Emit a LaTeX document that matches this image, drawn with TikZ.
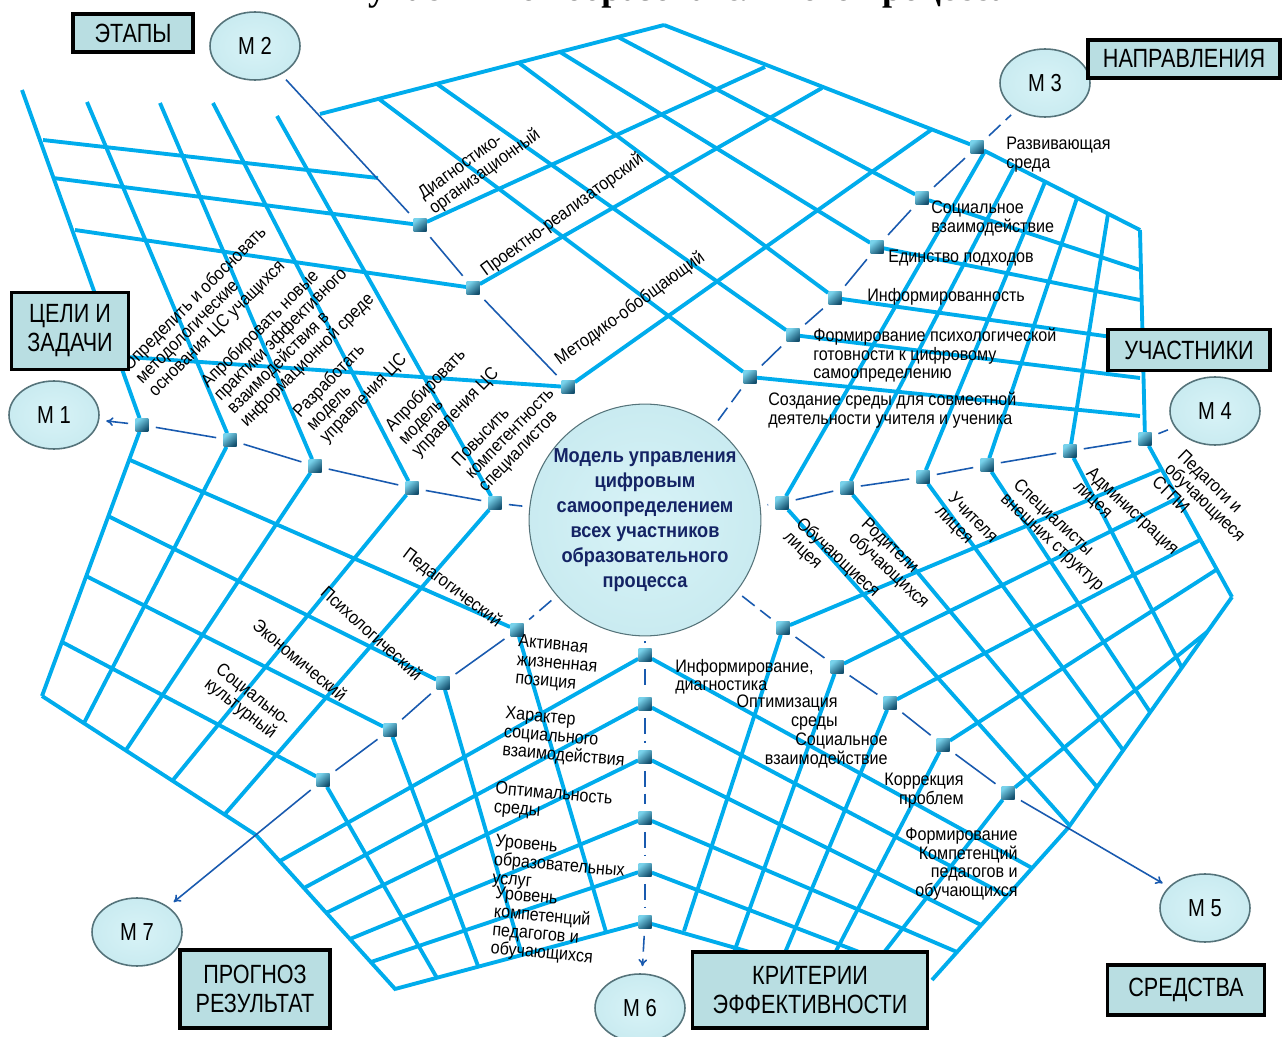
\documentclass[tikz,border=0pt]{standalone}
\usepackage{fontspec}
\setmainfont{Liberation Sans}
\newfontfamily\lblfamily[FakeStretch=0.89]{Liberation Sans}
\newfontfamily\boxfamily[FakeStretch=0.82]{Liberation Sans}
\newfontfamily\ctrfamily[FakeStretch=0.9]{Liberation Sans}
\newfontfamily\ttlfamily{Liberation Serif}
\newcommand{\lblfont}{\lblfamily\fontsize{10.3}{10.5}\selectfont}
\newcommand{\boxfont}{\boxfamily\fontsize{15}{16.5}\selectfont}
\newcommand{\ctrfont}{\ctrfamily\bfseries\fontsize{11.5}{14.2}\selectfont}
\newcommand{\mfont}{\boxfamily\fontsize{14}{15}\selectfont}
\usetikzlibrary{arrows.meta,positioning,calc,shapes.geometric}
\definecolor{gridblue}{RGB}{0,172,236}
\definecolor{spokeblue}{RGB}{25,90,175}
\definecolor{boxfill}{RGB}{185,222,226}
\definecolor{navytext}{RGB}{20,35,100}
\definecolor{ballin}{RGB}{216,243,247}
\definecolor{ballmid}{RGB}{196,232,238}
\definecolor{ballsoft}{RGB}{150,190,196}
\definecolor{ballrim}{RGB}{85,115,122}
\definecolor{cubelight}{RGB}{120,210,235}
\definecolor{cubedark}{RGB}{20,80,110}
\pgfdeclareradialshading{ballshade}{\pgfpoint{0bp}{0bp}}{color(0bp)=(ballin); color(34bp)=(ballmid); color(44bp)=(ballsoft); color(50bp)=(ballrim)}
\pgfdeclarelayer{background}
\pgfsetlayers{background,main}

\begin{document}
\begin{tikzpicture}[x=0.02cm, y=-0.02cm,
    gridline/.style={draw=gridblue, line width=2.2pt},
    spoke/.style={draw=spokeblue, line width=0.9pt, shorten <=4pt, shorten >=4pt},
    spokedash/.style={spoke, dash pattern=on 9pt off 4pt},
    tip/.style={-{To[length=4pt,width=5pt]}},
    marker/.style={rectangle, minimum size=0.26cm, inner sep=0pt,
                   top color=cubelight, bottom color=cubedark, shading angle=40},
    mnode/.style={ellipse, draw=ballrim, line width=0.9pt, shade, shading=ballshade,
                  minimum width=1.8cm, minimum height=1.36cm, font=\mfont},
    ctr/.style={circle, minimum size=4.44cm, shade, shading=ballshade, draw=ballrim,
                line width=0.6pt, font=\ctrfont, text=navytext, align=center, inner sep=0pt},
    tag/.style={rectangle, draw=black, line width=1.8pt, fill=boxfill, font=\boxfont,
                align=center, inner sep=0pt},
    lbl/.style={font=\lblfont, inner sep=0pt, align=left}
]
\useasboundingbox (0,0) rectangle (1286,1037);

% title, cut by the page edge
\node[font=\ttlfamily\bfseries\fontsize{20.5}{22}\selectfont, anchor=base, inner sep=0pt]
  (ttl) at (688,1) {участников образовательного процесса};

% centre
\node[ctr] (ctr) at (645,520) {Модель управления\\цифровым\\самоопределением\\всех участников\\образовательного\\процесса};

% modules
\node[mnode] (M1) at (54,415) {М 1};
\node[mnode] (M2) at (255,46) {М 2};
\node[mnode] (M3) at (1045,83) {М 3};
\node[mnode] (M4) at (1215,411) {М 4};
\node[mnode] (M5) at (1205,908) {М 5};
\node[mnode] (M6) at (640,1008) {М 6};
\node[mnode] (M7) at (137,932) {М 7};

% markers
\node[marker] (m1a) at (142,425) {};
\node[marker] (m1b) at (230,440) {};
\node[marker] (m1c) at (315,466) {};
\node[marker] (m1d) at (412,488) {};
\node[marker] (m1e) at (495,503) {};
\node[marker] (m2a) at (420,225) {};
\node[marker] (m2b) at (473,288) {};
\node[marker] (m2c) at (568,387) {};
\node[marker] (m3a) at (977,147) {};
\node[marker] (m3b) at (922,198) {};
\node[marker] (m3c) at (877,247) {};
\node[marker] (m3d) at (835,298) {};
\node[marker] (m3e) at (793,335) {};
\node[marker] (m3f) at (750,377) {};
\node[marker] (m4a) at (782,503) {};
\node[marker] (m4b) at (847,488) {};
\node[marker] (m4c) at (923,477) {};
\node[marker] (m4d) at (987,465) {};
\node[marker] (m4e) at (1070,451) {};
\node[marker] (m4f) at (1145,439) {};
\node[marker] (m5a) at (783,628) {};
\node[marker] (m5b) at (837,667) {};
\node[marker] (m5c) at (890,703) {};
\node[marker] (m5d) at (943,745) {};
\node[marker] (m5e) at (1008,793) {};
\node[marker] (m6a) at (645,655) {};
\node[marker] (m6b) at (645,704) {};
\node[marker] (m6c) at (645,757) {};
\node[marker] (m6d) at (645,818) {};
\node[marker] (m6e) at (645,870) {};
\node[marker] (m6f) at (645,922) {};
\node[marker] (m7a) at (517,630) {};
\node[marker] (m7b) at (443,683) {};
\node[marker] (m7c) at (390,730) {};
\node[marker] (m7d) at (323,780) {};
\coordinate (q2a) at (320,114);
\coordinate (q2b) at (378,178);
\coordinate (q5) at (1068,828);
\coordinate (q7) at (256,835);

\begin{pgfonlayer}{background}
% goals
\draw[gridline] (22,90) -- (m1a) -- (42,696);
\draw[gridline] (87,102) -- (m1b) -- (84,723);
\draw[gridline] (160,103) -- (m1c) -- (126,750);
\draw[gridline] (213,103) -- (m1d) -- (173,780);
\draw[gridline] (277,116) -- (m1e) -- (225,814);
% stages
\draw[gridline] (43,140) -- (q2b);
\draw[gridline] (q2a) -- (664,25);
\draw[gridline] (53,178) -- (m2a) -- (765,67);
\draw[gridline] (75,230) -- (m2b) -- (822,88);
\draw[gridline] (127,357) -- (m2c) -- (931,130);
% directions
\draw[gridline] (664,25) -- (m3a) -- (1140,230);
\draw[gridline] (618,37) -- (m3b) -- (1140,270);
\draw[gridline] (560,52) -- (m3c) -- (1140,300);
\draw[gridline] (519,63) -- (m3d) -- (1140,341);
\draw[gridline] (437,84) -- (m3e) -- (1140,378);
\draw[gridline] (379,99) -- (m3f) -- (1140,416);
% participants
\draw[gridline] (985,151) -- (m4a) -- (1070,826);
\draw[gridline] (1015,166) -- (m4b) -- (1097,787);
\draw[gridline] (1045,182) -- (m4c) -- (1123,750);
\draw[gridline] (1077,198) -- (m4d) -- (1150,712);
\draw[gridline] (1108,214) -- (m4e) -- (1182,668);
\draw[gridline] (1140,230) -- (m4f) -- (1232,597);
% means
\draw[gridline] (1160,470) -- (m5a) -- (684,931);
\draw[gridline] (1178,498) -- (m5b) -- (733,955);
\draw[gridline] (1200,540) -- (m5c) -- (784,955);
\draw[gridline] (1216,570) -- (m5d) -- (834,955);
\draw[gridline] (1207,632) -- (m5e) -- (882,955);
\draw[gridline] (1232,597) -- (q5) -- (932,980);
% criteria
\draw[gridline] (280,861) -- (m6a) -- (1032,868);
\draw[gridline] (304,888) -- (m6b) -- (1007,896);
\draw[gridline] (326,913) -- (m6c) -- (981,925);
\draw[gridline] (350,939) -- (m6d) -- (957,952);
\draw[gridline] (371,962) -- (m6e) -- (880,960);
\draw[gridline] (395,989) -- (m6f) -- (760,955);
% forecast
\draw[gridline] (130,460) -- (m7a) -- (606,932);
\draw[gridline] (108,516) -- (m7b) -- (522,955);
\draw[gridline] (86,576) -- (m7c) -- (478,966);
\draw[gridline] (62,642) -- (m7d) -- (437,978);
\draw[gridline] (42,696) -- (q7) -- (396,990);

% spokes
\draw[spokedash] (ctr) -- (m1e);
\draw[spoke] (m1e) -- (m1d);
\draw[spoke] (m1d) -- (m1c);
\draw[spoke] (m1c) -- (m1b);
\draw[spoke] (m1b) -- (m1a);
\draw[spoke, tip] (m1a) -- (M1);
\draw[spoke] (m2c) -- (m2b);
\draw[spoke] (m2b) -- (m2a);
\draw[spoke] (m2a) -- (M2);
\draw[spokedash] (ctr) -- (m3f);
\draw[spoke] (m3f) -- (m3e);
\draw[spoke] (m3e) -- (m3d);
\draw[spoke] (m3d) -- (m3c);
\draw[spoke] (m3c) -- (m3b);
\draw[spoke] (m3b) -- (m3a);
\draw[spokedash] (m3a) -- (M3);
\draw[spokedash] (ctr) -- (m4a);
\draw[spoke] (m4a) -- (m4b);
\draw[spoke] (m4b) -- (m4c);
\draw[spoke] (m4c) -- (m4d);
\draw[spoke] (m4d) -- (m4e);
\draw[spoke] (m4e) -- (m4f);
\draw[spoke] (m4f) -- (M4);
\draw[spokedash] (ctr) -- (m5a);
\draw[spoke] (m5a) -- (m5b);
\draw[spoke] (m5b) -- (m5c);
\draw[spoke] (m5c) -- (m5d);
\draw[spoke] (m5d) -- (m5e);
\draw[spoke, tip] (m5e) -- (M5);
\draw[spokedash] (ctr) -- (m6a);
\draw[spokedash] (m6a) -- (m6b);
\draw[spokedash] (m6b) -- (m6c);
\draw[spokedash] (m6c) -- (m6d);
\draw[spokedash] (m6d) -- (m6e);
\draw[spokedash] (m6e) -- (m6f);
\draw[spokedash, tip] (m6f) -- (M6);
\draw[spokedash] (ctr) -- (m7a);
\draw[spoke] (m7a) -- (m7b);
\draw[spoke] (m7b) -- (m7c);
\draw[spoke] (m7c) -- (m7d);
\draw[spoke, tip] (m7d) -- (M7);
\end{pgfonlayer}

% goal labels
\node[lbl, rotate=45, anchor=west] (g1) at (139,381) {Определить и обосновать\\методологические\\основания ЦС учащихся};
\node[lbl, rotate=45, anchor=west] (g2) at (224,405) {Апробировать новые\\практики эффективного\\взаимодействия в\\информационной среде};
\node[lbl, rotate=46, anchor=west] (g3) at (310,428) {Разработать\\модель\\управления ЦС};
\node[lbl, rotate=46, anchor=west] (g4) at (402,442) {Апробировать\\модель\\управления ЦС};
\node[lbl, rotate=46, anchor=west] (g5) at (469,477) {Повысить\\компетентность\\специалистов};
% stage labels
\node[lbl, rotate=36, anchor=west] (s1) at (426,204) {Диагностико-\\организационный};
\node[lbl, rotate=36, anchor=west] (s2) at (483,273) {Проектно-реализаторский};
\node[lbl, rotate=36, anchor=west] (s3) at (557,362) {Методико-обобщающий};
% direction labels
\node[lbl, anchor=north west] (d1) at (1006,137) {Развивающая\\среда};
\node[lbl, anchor=north west] (d2) at (931,201) {Социальное\\взаимодействие};
\node[lbl, anchor=north west] (d3) at (888,250) {Единство подходов};
\node[lbl, anchor=north west] (d4) at (867,288) {Информированность};
\node[lbl, anchor=north west] (d5) at (813,328) {Формирование психологической\\готовности к цифровому\\самоопределению};
\node[lbl, anchor=north west] (d6) at (768,392) {Создание среды для совместной\\деятельности учителя и ученика};
% participant labels
\node[lbl, rotate=-43, anchor=west] (p1) at (792,528) {Обучающиеся\\лицея};
\node[lbl, rotate=-43, anchor=west] (p2) at (857,529) {Родители\\обучающихся};
\node[lbl, rotate=-45, anchor=west] (p3) at (944,503) {Учителя\\лицея};
\node[lbl, rotate=-43, anchor=west] (p4) at (1009,490) {Специалисты\\внешних структур};
\node[lbl, rotate=-43, anchor=west] (p5) at (1082,478) {Администрация\\лицея};
\node[lbl, rotate=-44, anchor=west] (p6) at (1168,466) {Педагоги и\\обучающиеся\\СГПИ};
% means labels
\node[lbl, anchor=north west] (r1) at (675,659) {Информирование,\\диагностика};
\node[lbl, anchor=north east, align=right] (r2) at (838,695) {Оптимизация\\среды};
\node[lbl, anchor=north east, align=right] (r3) at (888,733) {Социальное\\взаимодействие};
\node[lbl, anchor=north east, align=right] (r4) at (964,773) {Коррекция\\проблем};
\node[lbl, anchor=north east, align=right] (r5) at (1018,828) {Формирование\\Компетенций\\педагогов и\\обучающихся};
% criteria labels
\node[lbl, rotate=-5, anchor=north west] (k1) at (519,634) {Активная\\жизненная\\позиция};
\node[lbl, rotate=-5, anchor=north west] (k2) at (506,706) {Характер\\социального\\взаимодействия};
\node[lbl, rotate=-5, anchor=north west] (k3) at (496,781) {Оптимальность\\среды};
\node[lbl, rotate=-5, anchor=north west] (k4) at (496,834) {Уровень\\образовательных\\услуг};
\node[lbl, rotate=-5, anchor=north west] (k5) at (496,886) {Уровень\\компетенций\\педагогов и\\обучающихся};
% forecast labels
\node[lbl, rotate=-37] (f1) at (452,588) {Педагогический};
\node[lbl, rotate=-42] (f2) at (372,633) {Психологический};
\node[lbl, rotate=-40] (f3) at (300,660) {Экономический};
\node[lbl, rotate=-38] (f4) at (247,703) {Социально-\\культурный};

% section tags
\node[tag, minimum width=2.4cm, minimum height=0.76cm] (etapy) at (133,33) {ЭТАПЫ};
\node[tag, minimum width=3.84cm, minimum height=0.76cm] (napr) at (1184,59) {НАПРАВЛЕНИЯ};
\node[tag, minimum width=2.34cm, minimum height=1.54cm] (celi) at (70,331) {ЦЕЛИ И\\ЗАДАЧИ};
\node[tag, minimum width=3.24cm, minimum height=0.82cm] (uch) at (1189,350) {УЧАСТНИКИ};
\node[tag, minimum width=3.0cm, minimum height=1.56cm] (progn) at (255,989) {ПРОГНОЗ\\РЕЗУЛЬТАТ};
\node[tag, minimum width=4.7cm, minimum height=1.52cm] (krit) at (810,990) {КРИТЕРИИ\\ЭФФЕКТИВНОСТИ};
\node[tag, minimum width=3.14cm, minimum height=1.0cm] (sredst) at (1186,990) {СРЕДСТВА};
\end{tikzpicture}
\end{document}
